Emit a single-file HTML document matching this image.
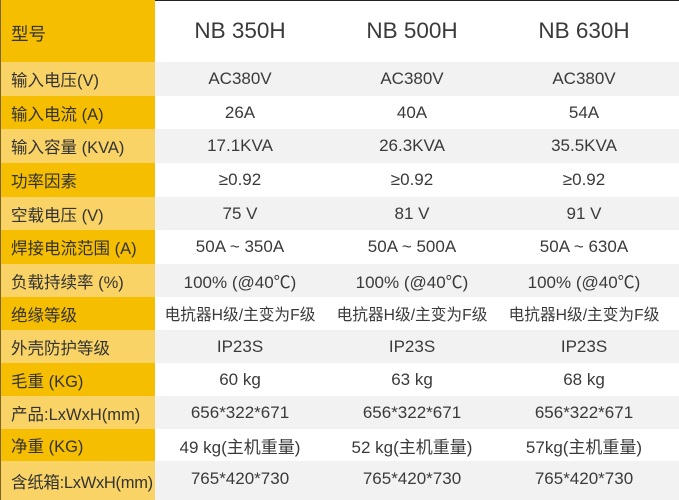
<!DOCTYPE html>
<html><head><meta charset="utf-8">
<style>
html,body{margin:0;padding:0;}
body{width:679px;height:500px;position:relative;overflow:hidden;background:#fff;
font-family:"Liberation Sans","Noto Sans CJK SC",sans-serif;color:#333;}
.r{position:absolute;left:0;width:679px;}
.r.g{background:#f2f2f2;}
.r .l{position:absolute;left:0;top:0;bottom:0;width:155px;display:flex;align-items:center;padding-left:11px;box-sizing:border-box;font-size:16.5px;color:#333;white-space:nowrap;}
.r .l{background:#f6be00;}
.r.g .l{background:#f9d366;}
.r .c{position:absolute;top:0;bottom:0;width:172px;display:flex;align-items:center;justify-content:center;font-size:17px;color:#3a3a3a;white-space:nowrap;}
.c1{left:154px;}.c2{left:326px;}.c3{left:498px;}
.h .c{font-size:22.5px;}
.h .l{font-size:17.5px;padding-top:5px;}
.sm{font-size:15.7px !important;}
.top{position:absolute;left:155px;top:0;width:524px;height:1px;background:#222;}
.left{position:absolute;left:0;top:0;width:1px;height:500px;background:#7a6420;}
.last .l,.last .c{align-items:flex-start;padding-top:8px;}
</style></head><body>
<div class="r h" style="top:0;height:62px"><div class="l">型号</div><div class="c c1">NB 350H</div><div class="c c2">NB 500H</div><div class="c c3">NB 630H</div></div>
<div class="r g" style="top:62px;height:34px"><div class="l">输入电压(V)</div><div class="c c1">AC380V</div><div class="c c2">AC380V</div><div class="c c3">AC380V</div></div>
<div class="r" style="top:96px;height:33px"><div class="l">输入电流 (A)</div><div class="c c1">26A</div><div class="c c2">40A</div><div class="c c3">54A</div></div>
<div class="r g" style="top:129px;height:34px"><div class="l">输入容量 (KVA)</div><div class="c c1">17.1KVA</div><div class="c c2">26.3KVA</div><div class="c c3">35.5KVA</div></div>
<div class="r" style="top:163px;height:34px"><div class="l">功率因素</div><div class="c c1">≥0.92</div><div class="c c2">≥0.92</div><div class="c c3">≥0.92</div></div>
<div class="r g" style="top:197px;height:33px"><div class="l">空载电压 (V)</div><div class="c c1">75 V</div><div class="c c2">81 V</div><div class="c c3">91 V</div></div>
<div class="r" style="top:230px;height:34px"><div class="l">焊接电流范围 (A)</div><div class="c c1">50A ~ 350A</div><div class="c c2">50A ~ 500A</div><div class="c c3">50A ~ 630A</div></div>
<div class="r g" style="top:264px;height:33px"><div class="l">负载持续率 (%)</div><div class="c c1">100% (@40℃)</div><div class="c c2">100% (@40℃)</div><div class="c c3">100% (@40℃)</div></div>
<div class="r" style="top:297px;height:33px"><div class="l">绝缘等级</div><div class="c c1 sm">电抗器H级/主变为F级</div><div class="c c2 sm">电抗器H级/主变为F级</div><div class="c c3 sm">电抗器H级/主变为F级</div></div>
<div class="r g" style="top:330px;height:33px"><div class="l">外壳防护等级</div><div class="c c1">IP23S</div><div class="c c2">IP23S</div><div class="c c3">IP23S</div></div>
<div class="r" style="top:363px;height:33px"><div class="l">毛重 (KG)</div><div class="c c1">60 kg</div><div class="c c2">63 kg</div><div class="c c3">68 kg</div></div>
<div class="r g" style="top:396px;height:33px"><div class="l">产品:LxWxH(mm)</div><div class="c c1">656*322*671</div><div class="c c2">656*322*671</div><div class="c c3">656*322*671</div></div>
<div class="r" style="top:429px;height:32px"><div class="l">净重 (KG)</div><div class="c c1">49 kg(主机重量)</div><div class="c c2">52 kg(主机重量)</div><div class="c c3">57kg(主机重量)</div></div>
<div class="r g last" style="top:461px;height:39px"><div class="l" style="letter-spacing:-0.3px">含纸箱:LxWxH(mm)</div><div class="c c1">765*420*730</div><div class="c c2">765*420*730</div><div class="c c3">765*420*730</div></div>
<div class="top"></div>
<div class="left"></div>
</body></html>
